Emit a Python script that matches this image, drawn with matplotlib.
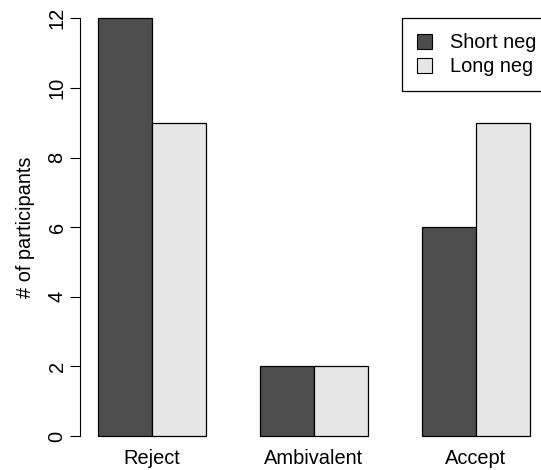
import numpy as np
import matplotlib.pyplot as plt
from matplotlib.patches import Patch

plt.rcParams['font.family'] = ['Liberation Sans', 'DejaVu Sans']

categories = ['Reject', 'Ambivalent', 'Accept']
series_names = ['Short neg', 'Long neg']
short_neg = [12, 2, 6]
long_neg = [9, 2, 9]
colors = ['#4D4D4D', '#E6E6E6']
y_ticks = [0, 2, 4, 6, 8, 10, 12]

# R-style barplot(beside=TRUE): bars of width 1, one bar gap between groups
n = len(categories)
left_edges = np.arange(n) * 3 + 1
fig = plt.figure(figsize=(5.41, 4.70), dpi=100)
ax = fig.add_axes([0.1486, 0.0368, 0.863, 0.9598])

ax.bar(left_edges, short_neg, width=1, align='edge', color=colors[0],
       edgecolor='black', linewidth=0.9)
ax.bar(left_edges + 1, long_neg, width=1, align='edge', color=colors[1],
       edgecolor='black', linewidth=0.9)

ax.set_xlim(0.68, 9.32)
ax.set_ylim(-0.48, 12.48)

for s in ['top', 'right', 'bottom']:
    ax.spines[s].set_visible(False)
ax.spines['left'].set_bounds(0, 12)
ax.spines['left'].set_linewidth(0.8)

ax.set_yticks(y_ticks)
ax.set_yticklabels([str(t) for t in y_ticks], rotation=90, va='center')
ax.tick_params(axis='y', length=7, width=0.8, pad=3, labelsize=14.4)

ax.set_xticks(left_edges + 1)
ax.set_xticklabels(categories)
ax.tick_params(axis='x', length=0, pad=-3, labelsize=14.4)

ax.set_ylabel('# of participants', fontsize=14.4, labelpad=9)

handles = [Patch(facecolor=c, edgecolor='black', linewidth=0.8) for c in colors]
leg = ax.legend(handles, series_names, loc='upper left',
                bbox_to_anchor=(6.63, 12.0), bbox_transform=ax.transData,
                fontsize=14.4, frameon=True, fancybox=False, framealpha=1,
                edgecolor='black', borderpad=0.75, handlelength=0.75,
                handleheight=0.75, handletextpad=0.9, labelspacing=0.25,
                borderaxespad=0)
leg.get_frame().set_linewidth(0.9)

fig.savefig('out.png', dpi=100)
